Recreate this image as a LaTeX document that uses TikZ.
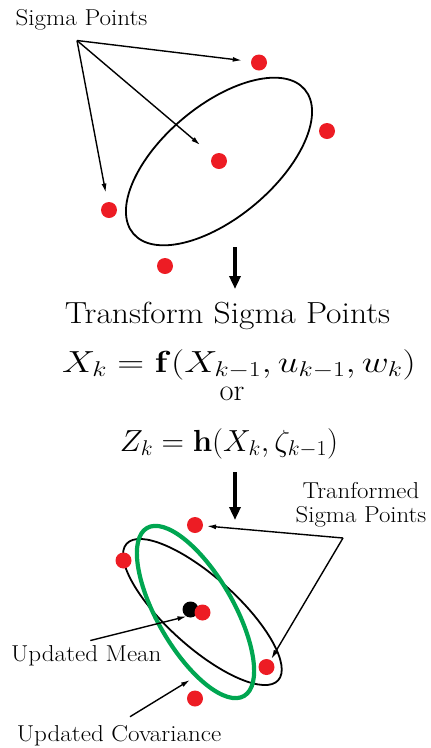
\RequirePackage{fix-cm}
\documentclass[tikz,border=0pt]{standalone}
\usepackage{graphicx}
\usetikzlibrary{arrows.meta}
\definecolor{dotred}{RGB}{237,28,36}
\definecolor{covgreen}{RGB}{0,166,81}
\newcommand{\hwide}[2]{\scalebox{#1}[1]{#2}}

\begin{document}
\begin{tikzpicture}[x=1pt, y=-1pt, >={Latex[length=9pt,width=5pt]},
    sigdot/.style={circle, fill=dotred, minimum size=16pt, inner sep=0pt, outer sep=0pt},
    meandot/.style={sigdot, fill=black},
    lbl/.style={font=\fontsize{23}{27}\selectfont, inner sep=0pt, anchor=base},
    big/.style={font=\fontsize{30.5}{36}\selectfont, inner sep=0pt, anchor=base},
    ptr/.style={->, line width=1.4pt},
    flow/.style={-{Triangle[length=13pt,width=11pt]}, line width=4.5pt}]
    \useasboundingbox (0,0) rectangle (431,748);

    % Prior distribution and its sigma points
    \draw[line width=1.8pt, rotate around={40:(219,161.5)}]
      (219,161.5) ellipse [x radius=112, y radius=56];
    \node[sigdot] (s1) at (259,62.5) {};
    \node[sigdot] (s2) at (219,161) {};
    \node[sigdot] (s3) at (327,131) {};
    \node[sigdot] (s4) at (109,210) {};
    \node[sigdot] (s5) at (165,266) {};

    \node[lbl] (splbl) at (81.5,25) {\hwide{1.09}{Sigma Points}};
    \coordinate (spfork) at (77,40.5);
    \draw[ptr, shorten >=9.4pt] (spfork) -- (s1);
    \draw[ptr, shorten >=16.8pt] (spfork) -- (s2);
    \draw[ptr, shorten >=9.7pt] (spfork) -- (s4);

    % Transformation step
    \coordinate (f1a) at (235,247);
    \coordinate (f1b) at (235,289);
    \draw[flow] (f1a) -- (f1b);

    \node[big] (tslbl) at (227.5,323) {\hwide{1.1}{Transform Sigma Points}};
    \node[big] (eqf) at (239,372) {\hwide{1.22}{$X_k = \mathbf{f}(X_{k-1}, u_{k-1}, w_k)$}};
    \node[big] (orlbl) at (232,400) {or};
    \node[big] (eqh) at (229,451) {\hwide{1.02}{$Z_k = \mathbf{h}(X_k, \zeta_{k-1})$}};

    \coordinate (f2a) at (235,472);
    \coordinate (f2b) at (235,520);
    \draw[flow] (f2a) -- (f2b);

    % Transformed points, updated mean and covariance
    \draw[line width=1.8pt, rotate around={-42:(202.4,612)}]
      (202.4,612) ellipse [x radius=102, y radius=35];
    \draw[covgreen, line width=4.2pt, rotate around={-60:(195.5,612)}]
      (195.5,612) ellipse [x radius=97, y radius=38];
    \node[meandot] (mean) at (190.5,609.5) {};
    \node[sigdot] (t1) at (195,525) {};
    \node[sigdot] (t2) at (123.5,560.5) {};
    \node[sigdot] (t3) at (202.5,612.5) {};
    \node[sigdot] (t4) at (266.5,667) {};
    \node[sigdot] (t5) at (195,698.5) {};

    \node[lbl, align=center] (tflbl) at (361,522)
      {\hwide{1.08}{Tranformed}\\[-3pt]\hwide{1.08}{Sigma Points}};
    \coordinate (tffork) at (343,538);
    \draw[ptr, shorten >=4pt] (tffork) -- (t1);
    \draw[ptr, shorten >=1.5pt] (tffork) -- (t4);

    \node[lbl] (mlbl) at (86.3,661.7) {\hwide{1.09}{Updated Mean}};
    \draw[ptr] ([xshift=4pt,yshift=5pt]mlbl.north) -- (mean.240);

    \node[lbl] (clbl) at (119,741) {\hwide{1.09}{Updated Covariance}};
    \coordinate (covpt) at (190,680);
    \draw[ptr] ([xshift=11pt,yshift=8pt]clbl.north) -- (covpt);
\end{tikzpicture}
\end{document}
